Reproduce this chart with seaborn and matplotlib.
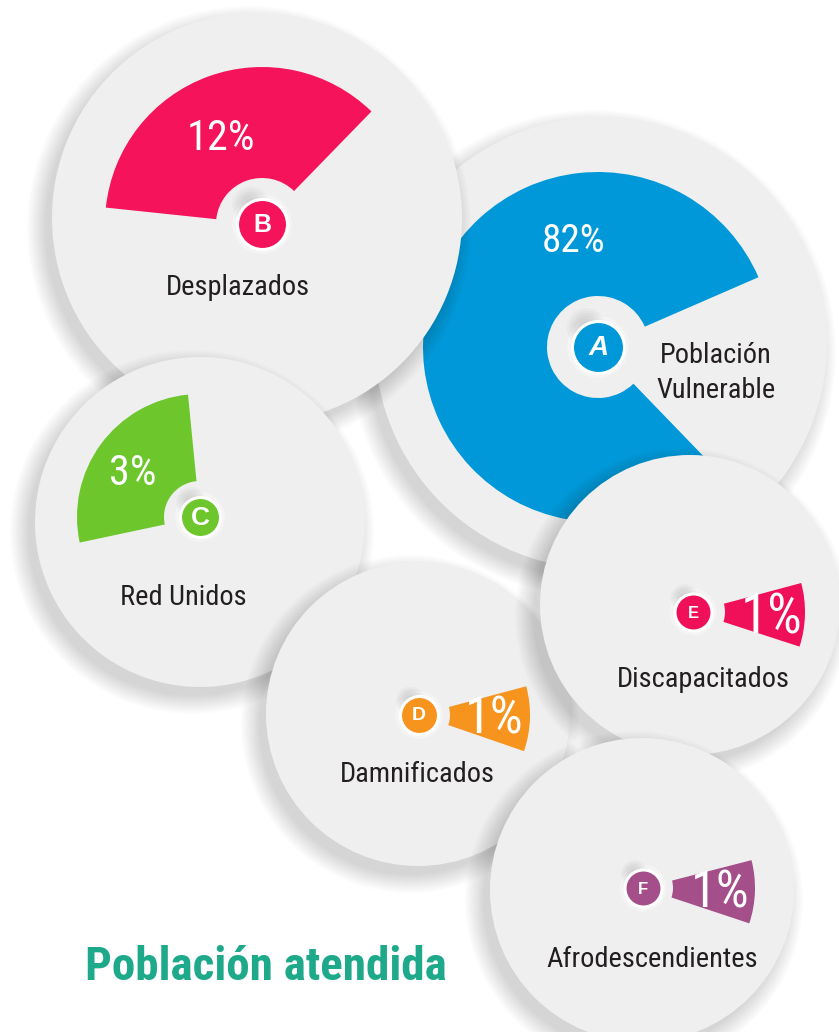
import matplotlib
matplotlib.use("Agg")
import matplotlib.pyplot as plt
from matplotlib.patches import Circle, Wedge
import seaborn as sns
import pandas as pd
import numpy as np

# ---------------- data ----------------
categories = ["Población\nVulnerable", "Desplazados", "Red Unidos",
              "Damnificados", "Discapacitados", "Afrodescendientes"]
letters = ["A", "B", "C", "D", "E", "F"]
values = [82, 12, 3, 1, 1, 1]
title = "Población atendida"

# ---------------- layout / style (pixel coordinates) ----------------
colors = ["#0098D8", "#F5145C", "#6CC62C", "#F7941D", "#F0105A", "#A54F8A"]
disc_center = [(601, 343), (257, 218), (200, 522), (418, 714), (690, 605), (642, 890)]
disc_radius = [226, 205, 165, 152, 150, 152]
hub = [(598, 347), (262, 224), (200, 517), (419, 715), (693, 612), (643, 888)]
hub_r = [26, 25, 20, 19, 18.5, 18.5]
letter_px = [20, 18, 19, 14, 12, 12]
ring = [(51, 175), (46, 157), (36, 123), (31, 111), (32, 112), (30, 112)]
arc = [(23.5, 314), (45.8, 174), (95.6, 192), (-19, 15), (-18, 15), (-18.4, 14.4)]
pct_pos = [(574, 252), (221, 150), (133, 485), (494, 733), (772, 633), (720, 907)]
pct_cap = [28, 30, 30, 37, 39, 37]
lab_pos = [(716, 363), (238, 295), (183, 605), (417, 782), (703, 687), (652, 967)]
lab_width = [117, 145, 131, 156, 173, 211]
draw_order = [1, 0, 2, 5, 4, 3]
COND = ["Roboto Condensed", "DejaVu Sans"]

W, H, DPI = 839, 1032, 100
sns.set_theme(style="white")
plt.rcParams["font.family"] = COND

fig = plt.figure(figsize=(W / DPI, H / DPI), dpi=DPI)
ax = fig.add_axes([0, 0, 1, 1])
fig.patch.set_facecolor("white")

for i in draw_order:
    cx, cy = disc_center[i]
    r = disc_radius[i]
    z = 1 + i * 0.01
    for k in range(14):
        ax.add_patch(Circle((cx - 8, cy + 10), r + 17 - k * 1.4,
                            color="#000000", alpha=0.012, lw=0, zorder=z))
    ax.add_patch(Circle((cx, cy), r, color="#EFEFF0", lw=0, zorder=z + 0.004))
    hx, hy = hub[i]
    r_in, r_out = ring[i]
    t1, t2 = arc[i]
    # y axis is inverted -> flip angles
    ax.add_patch(Wedge((hx, hy), r_out, -t2, -t1, width=r_out - r_in,
                       color=colors[i], lw=0, zorder=z + 0.006))
    ax.add_patch(Circle((hx, hy), hub_r[i] + 5, color="#F4F4F5", lw=0, zorder=z + 0.007))
    for k in range(6):
        ax.add_patch(Circle((hx - hub_r[i] * 0.45, hy - hub_r[i] * 0.75),
                            hub_r[i] * (0.75 - k * 0.1),
                            color="#000000", alpha=0.025, lw=0, zorder=z + 0.008))

# badges through seaborn scatter
df = pd.DataFrame({
    "x": [p[0] for p in hub],
    "y": [p[1] for p in hub],
    "letter": letters,
})
for i in range(len(letters)):
    sns.scatterplot(data=df.iloc[[i]], x="x", y="y", s=(2 * hub_r[i] * 72 / DPI) ** 2,
                    color=colors[i], edgecolor="white", linewidth=2.2, ax=ax,
                    zorder=5, legend=False)

ax.set_xlim(0, W)
ax.set_ylim(H, 0)
ax.set_aspect("equal")
ax.axis("off")

for i, L in enumerate(letters):
    hx, hy = hub[i]
    ax.text(hx + (1 if L == "A" else 0), hy + 1, L, ha="center", va="center", color="white",
            fontsize=letter_px[i], fontweight="bold",
            family=["Liberation Sans", "DejaVu Sans"],
            fontstyle="italic" if L == "A" else "normal", zorder=6)

renderer = fig.canvas.get_renderer()


def fit_group(texts, widths):
    ratios = []
    for t, w in zip(texts, widths):
        ratios.append(w / t.get_window_extent(renderer).width)
    s = float(np.median(ratios))
    for t in texts:
        t.set_fontsize(t.get_fontsize() * s)


# percentages (size from cap height: Roboto cap height ~0.711 em)
for i, v in enumerate(values):
    x, y = pct_pos[i]
    fs = pct_cap[i] / 0.711 * 72 / DPI
    ax.text(x, y, f"{v}%", ha="center", va="baseline", color="white",
            fontsize=fs, fontweight="normal", zorder=6)

# labels
lab_texts, lab_w = [], []
for i, c in enumerate(categories):
    x, y = lab_pos[i]
    for j, line in enumerate(c.split("\n")):
        t = ax.text(x, y + j * 35, line, ha="center", va="baseline", color="#231F20",
                    fontsize=21, zorder=6)
        lab_texts.append(t)
        lab_w.append(111 if (i == 0 and j == 0) else lab_width[i])
fit_group(lab_texts, lab_w)

tt = ax.text(85, 980, title, ha="left", va="baseline", color="#1DA98A",
             fontsize=34.5, fontweight="bold", zorder=6)
fit_group([tt], [362])

fig.savefig("out.png", dpi=DPI, facecolor="white")
